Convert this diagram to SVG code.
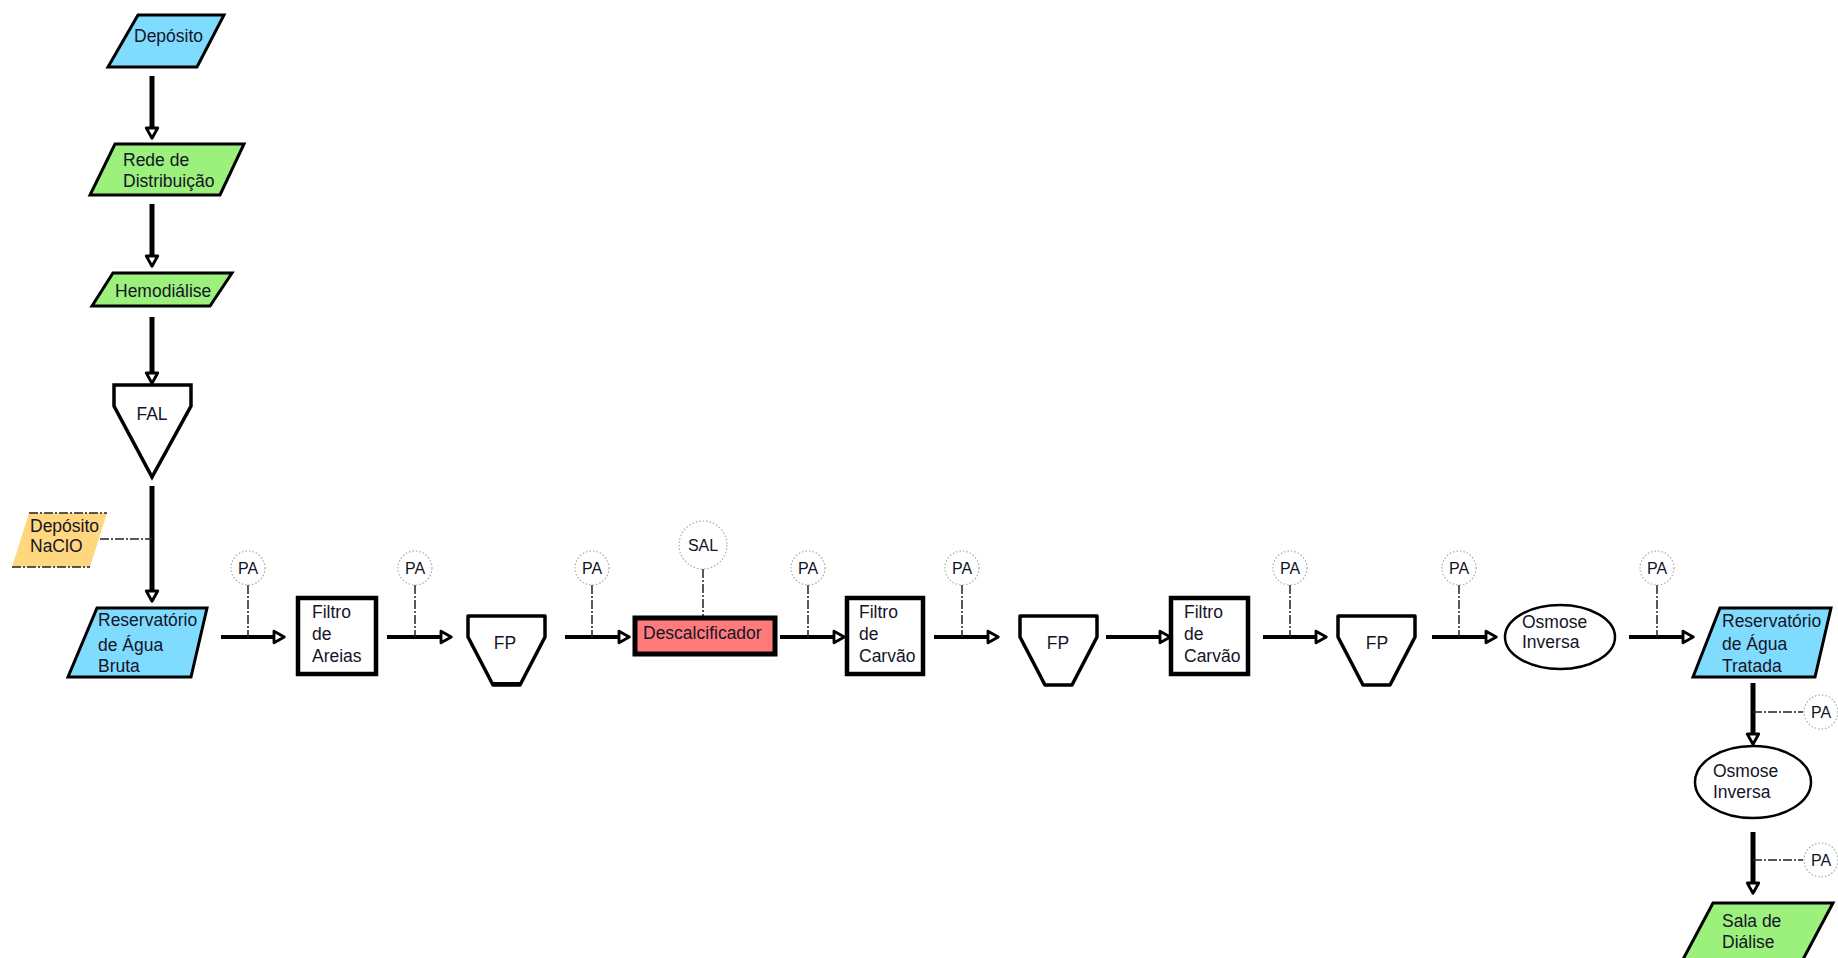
<svg xmlns="http://www.w3.org/2000/svg" width="1838" height="958" viewBox="0 0 1838 958">
<defs>
<style>
.t{font-family:"Liberation Sans",Arial,sans-serif;font-size:17.5px;fill:#141428}
.pa{font-family:"Liberation Sans",Arial,sans-serif;font-size:16px;fill:#141428;text-anchor:middle}
.para{stroke:#000;stroke-width:3;stroke-linejoin:miter}
.blue{fill:#80dcff}
.green{fill:#9cf07c}
.box{fill:#fff;stroke:#000;stroke-width:4.5}
.fp{fill:#fff;stroke:#000;stroke-width:3.5;stroke-linejoin:round}
.ell{fill:#fff;stroke:#000;stroke-width:2.5}
.pc{fill:#fff;stroke:#aaa;stroke-width:1.2;stroke-dasharray:1.5 2}
.dd{stroke:#222;stroke-width:1.5;fill:none;stroke-dasharray:9 2 2 2}
.ar{stroke:#000;stroke-width:4;fill:none}
.arv{stroke:#000;stroke-width:5;fill:none}
</style>
<marker id="ah" markerUnits="userSpaceOnUse" markerWidth="16" markerHeight="16" viewBox="-2 -7 14 14" refX="0" refY="0" orient="auto">
<path d="M0,-5 L9,0 L0,5 Z" fill="#fff" stroke="#000" stroke-width="2.5" stroke-linejoin="round"/>
</marker>
</defs>
<rect width="1838" height="958" fill="#fff"/>

<g id="connectors">
<line class="arv" x1="152" y1="76" x2="152" y2="128" marker-end="url(#ah)"/>
<line class="arv" x1="152" y1="204" x2="152" y2="256" marker-end="url(#ah)"/>
<line class="arv" x1="152" y1="317" x2="152" y2="373" marker-end="url(#ah)"/>
<line class="arv" x1="152" y1="486" x2="152" y2="591" marker-end="url(#ah)"/>
<line class="dd" x1="100" y1="539" x2="152" y2="539"/>
<line class="ar" x1="221" y1="637" x2="274" y2="637" marker-end="url(#ah)"/>
<line class="ar" x1="387" y1="637" x2="441" y2="637" marker-end="url(#ah)"/>
<line class="ar" x1="565" y1="637" x2="619" y2="637" marker-end="url(#ah)"/>
<line class="ar" x1="780" y1="637" x2="834" y2="637" marker-end="url(#ah)"/>
<line class="ar" x1="934" y1="637" x2="988" y2="637" marker-end="url(#ah)"/>
<line class="ar" x1="1106" y1="637" x2="1160" y2="637" marker-end="url(#ah)"/>
<line class="ar" x1="1263" y1="637" x2="1316" y2="637" marker-end="url(#ah)"/>
<line class="ar" x1="1432" y1="637" x2="1486" y2="637" marker-end="url(#ah)"/>
<line class="ar" x1="1629" y1="637" x2="1683" y2="637" marker-end="url(#ah)"/>
<line class="arv" x1="1753" y1="683" x2="1753" y2="734" marker-end="url(#ah)"/>
<line class="arv" x1="1753" y1="832" x2="1753" y2="883" marker-end="url(#ah)"/>
<line class="dd" x1="248" y1="585" x2="248" y2="637"/>
<line class="dd" x1="415" y1="585" x2="415" y2="637"/>
<line class="dd" x1="592" y1="585" x2="592" y2="637"/>
<line class="dd" x1="703" y1="569" x2="703" y2="617"/>
<line class="dd" x1="808" y1="585" x2="808" y2="637"/>
<line class="dd" x1="962" y1="585" x2="962" y2="637"/>
<line class="dd" x1="1290" y1="585" x2="1290" y2="637"/>
<line class="dd" x1="1459" y1="585" x2="1459" y2="637"/>
<line class="dd" x1="1657" y1="585" x2="1657" y2="637"/>
<line class="dd" x1="1753" y1="712" x2="1803" y2="712"/>
<line class="dd" x1="1753" y1="860" x2="1803" y2="860"/>
</g>

<g id="deposito">
<polygon class="para blue" points="138,15 224,15 197,67 108,67"/>
<text class="t" x="134" y="42">Depósito</text>
</g>
<g id="rede">
<polygon class="para green" points="115,144 244,144 220,195 90,195"/>
<text class="t" x="123" y="166">Rede de</text>
<text class="t" x="123" y="187">Distribuição</text>
</g>
<g id="hemodialise">
<polygon class="para green" points="113,273 232,273 210,306 92,306"/>
<text class="t" x="115" y="297">Hemodiálise</text>
</g>
<g id="fal">
<polygon fill="#fff" stroke="#000" stroke-width="3.5" stroke-linejoin="miter" points="114,385 191,385 191,406 152,477 114,406"/>
<text class="t" x="152" y="420" text-anchor="middle">FAL</text>
</g>
<g id="naclo">
<polygon fill="#ffd77e" points="29,513 107,513 90,567 12,567"/>
<line class="dd" x1="29" y1="513" x2="107" y2="513"/>
<line class="dd" x1="12" y1="567" x2="90" y2="567"/>
<text class="t" x="30" y="532">Depósito</text>
<text class="t" x="30" y="552">NaClO</text>
</g>
<g id="res-bruta">
<polygon class="para blue" points="97,608 207,608 191,677 68,677"/>
<text class="t" x="98" y="626">Reservatório</text>
<text class="t" x="98" y="651">de Água</text>
<text class="t" x="98" y="672">Bruta</text>
</g>
<g id="filtro-areias">
<rect class="box" x="298" y="598" width="78" height="76"/>
<text class="t" x="312" y="618">Filtro</text>
<text class="t" x="312" y="640">de</text>
<text class="t" x="312" y="662">Areias</text>
</g>
<g id="fp1">
<polygon class="fp" points="468,616 545,616 545,637 520,685 493,685 468,637"/>
<line x1="493" y1="684" x2="520" y2="684" stroke="#000" stroke-width="4"/>
<text class="t" x="505" y="649" text-anchor="middle">FP</text>
</g>
<g id="sal">
<circle class="pc" cx="703" cy="545" r="24"/>
<text class="pa" x="703" y="551" font-size="17">SAL</text>
</g>
<g id="descalcificador">
<rect fill="#ff7b7b" stroke="#000" stroke-width="5" x="635" y="618" width="140" height="36"/>
<text class="t" x="643" y="639">Descalcificador</text>
</g>
<g id="filtro-carvao-1">
<rect class="box" x="847" y="598" width="76" height="76"/>
<text class="t" x="859" y="618">Filtro</text>
<text class="t" x="859" y="640">de</text>
<text class="t" x="859" y="662">Carvão</text>
</g>
<g id="fp2">
<polygon class="fp" points="1020,616 1097,616 1097,637 1072,685 1045,685 1020,637"/>
<text class="t" x="1058" y="649" text-anchor="middle">FP</text>
</g>
<g id="filtro-carvao-2">
<rect class="box" x="1171" y="598" width="77" height="76"/>
<text class="t" x="1184" y="618">Filtro</text>
<text class="t" x="1184" y="640">de</text>
<text class="t" x="1184" y="662">Carvão</text>
</g>
<g id="fp3">
<polygon class="fp" points="1338,616 1415,616 1415,637 1390,685 1363,685 1338,637"/>
<text class="t" x="1377" y="649" text-anchor="middle">FP</text>
</g>
<g id="osmose-1">
<ellipse class="ell" cx="1560" cy="637" rx="55" ry="32"/>
<text class="t" x="1522" y="628">Osmose</text>
<text class="t" x="1522" y="648">Inversa</text>
</g>
<g id="res-tratada">
<polygon class="para blue" points="1720,608 1831,608 1815,677 1693,677"/>
<text class="t" x="1722" y="627">Reservatório</text>
<text class="t" x="1722" y="650">de Água</text>
<text class="t" x="1722" y="672">Tratada</text>
</g>
<g id="osmose-2">
<ellipse class="ell" cx="1753" cy="782" rx="58" ry="36"/>
<text class="t" x="1713" y="777">Osmose</text>
<text class="t" x="1713" y="798">Inversa</text>
</g>
<g id="sala-dialise">
<polygon class="para green" points="1713,903 1833,903 1800,965 1680,965"/>
<text class="t" x="1722" y="927">Sala de</text>
<text class="t" x="1722" y="948">Diálise</text>
</g>

<g id="pa-points">
<g id="pa1"><circle class="pc" cx="248" cy="568" r="17"/><text class="pa" x="248" y="574">PA</text></g>
<g id="pa2"><circle class="pc" cx="415" cy="568" r="17"/><text class="pa" x="415" y="574">PA</text></g>
<g id="pa3"><circle class="pc" cx="592" cy="568" r="17"/><text class="pa" x="592" y="574">PA</text></g>
<g id="pa4"><circle class="pc" cx="808" cy="568" r="17"/><text class="pa" x="808" y="574">PA</text></g>
<g id="pa5"><circle class="pc" cx="962" cy="568" r="17"/><text class="pa" x="962" y="574">PA</text></g>
<g id="pa6"><circle class="pc" cx="1290" cy="568" r="17"/><text class="pa" x="1290" y="574">PA</text></g>
<g id="pa7"><circle class="pc" cx="1459" cy="568" r="17"/><text class="pa" x="1459" y="574">PA</text></g>
<g id="pa8"><circle class="pc" cx="1657" cy="568" r="17"/><text class="pa" x="1657" y="574">PA</text></g>
<g id="pa9"><circle class="pc" cx="1821" cy="712" r="17"/><text class="pa" x="1821" y="718">PA</text></g>
<g id="pa10"><circle class="pc" cx="1821" cy="860" r="17"/><text class="pa" x="1821" y="866">PA</text></g>
</g>
</svg>
